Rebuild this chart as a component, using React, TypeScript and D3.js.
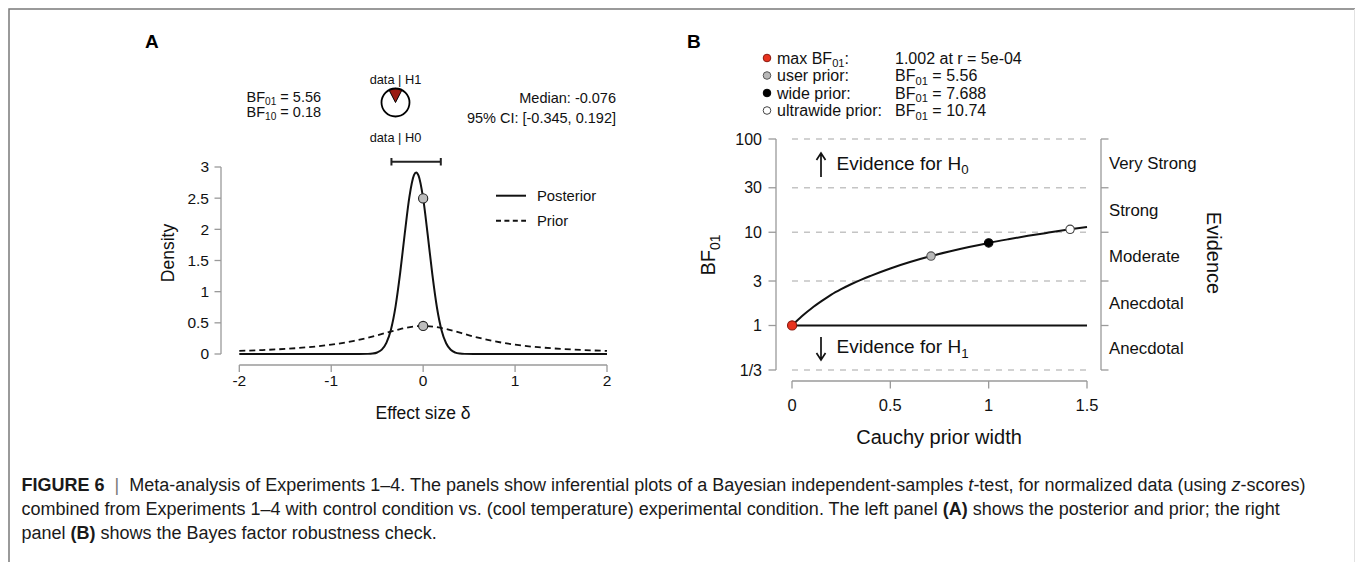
import React from 'react';
import * as d3 from 'd3';

const FONT = "'Liberation Sans', Arial, Helvetica, sans-serif";

// ---------- Panel A data ----------
const postX = [-2, -0.7, -0.6, -0.55, -0.5, -0.45, -0.4, -0.35, -0.3, -0.25, -0.2, -0.15, -0.1, -0.076, -0.05, 0, 0.05, 0.1, 0.15, 0.2, 0.25, 0.3, 0.35, 0.4, 0.45, 0.55, 2];
const postY = [0, 0, 0.002, 0.007, 0.024, 0.07, 0.178, 0.394, 0.765, 1.3, 1.933, 2.517, 2.868, 2.912, 2.86, 2.496, 1.908, 1.276, 0.746, 0.382, 0.172, 0.067, 0.023, 0.007, 0.002, 0, 0];
const priorX = [-2, -1.75, -1.5, -1.25, -1, -0.75, -0.5, -0.25, 0, 0.25, 0.5, 0.75, 1, 1.25, 1.5, 1.75, 2];
const priorY = [0.05, 0.063, 0.082, 0.109, 0.15, 0.212, 0.3, 0.4, 0.45, 0.4, 0.3, 0.212, 0.15, 0.109, 0.082, 0.063, 0.05];
const densityTicks = [0, 0.5, 1, 1.5, 2, 2.5, 3];
const densityTickLabels = ['0', '0.5', '1', '1.5', '2', '2.5', '3'];
const effectTicks = [-2, -1, 0, 1, 2];
const effectTickLabels = ['-2', '-1', '0', '1', '2'];
const ciBounds = [-0.345, 0.192];
const dotsA = [{ x: 0, y: 2.496 }, { x: 0, y: 0.45 }];
const pH1 = 1 / (1 + 5.56);
const legendA = ['Posterior', 'Prior'];
const statsLeft = ['BF_{01} = 5.56', 'BF_{10} = 0.18'];
const statsRight = ['Median: -0.076', '95% CI: [-0.345, 0.192]'];

// ---------- Panel B data ----------
const rValues = [0, 0.05, 0.1, 0.15, 0.2, 0.25, 0.3, 0.35, 0.4, 0.5, 0.6, 0.707, 0.8, 0.9, 1.0, 1.1, 1.2, 1.3, 1.414, 1.5];
const bfValues = [1, 1.257, 1.533, 1.823, 2.14, 2.45, 2.77, 3.09, 3.41, 4.09, 4.79, 5.56, 6.22, 6.95, 7.688, 8.41, 9.15, 9.88, 10.74, 11.37];
const bfTicks = [1 / 3, 1, 3, 10, 30, 100];
const bfTickLabels = ['1/3', '1', '3', '10', '30', '100'];
const rTicks = [0, 0.5, 1, 1.5];
const rTickLabels = ['0', '0.5', '1', '1.5'];
const evidenceBounds = [[100, 30], [30, 10], [10, 3], [3, 1], [1, 1 / 3]];
const evidenceLabels = ['Very Strong', 'Strong', 'Moderate', 'Anecdotal', 'Anecdotal'];
const markerR = [0.0005, 0.707, 1, 1.414];
const markerBF = [1.002, 5.56, 7.688, 10.74];
const markerFill = ['#e8321e', '#b8b8b8', '#000000', '#ffffff'];
const markerStroke = ['#8a1a10', '#555555', '#000000', '#444444'];
const legendNames = ['max BF_{01}:', 'user prior:', 'wide prior:', 'ultrawide prior:'];
const legendValues = ['1.002 at r = 5e-04', 'BF_{01} = 5.56', 'BF_{01} = 7.688', 'BF_{01} = 10.74'];

type Seg = [string, string?];
const captionLines: Seg[][] = [
  [['FIGURE 6', 'b'], ['  |  ', 'l'], ['Meta-analysis of Experiments 1–4. The panels show inferential plots of a Bayesian independent-samples '], ['t', 'i'], ['-test, for normalized data (using '], ['z', 'i'], ['-scores)']],
  [['combined from Experiments 1–4 with control condition vs. (cool temperature) experimental condition. The left panel '], ['(A)', 'b'], [' shows the posterior and prior; the right']],
  [['panel '], ['(B)', 'b'], [' shows the Bayes factor robustness check.']],
];

const AXIS = '#9a9a9a';

function Rich(props: any) {
  const { x, y, text, fs, anchor = 'start', weight = 'normal', transform, fill = '#111' } = props;
  const parts = text.split(/(_\{[^}]*\})/).filter((p: string) => p.length > 0);
  const shift = fs * 0.24;
  let prevSub = false;
  const kids = parts.map((p: string, i: number) => {
    if (p.startsWith('_{')) {
      const el = <tspan key={i} dy={shift} fontSize={fs * 0.7}>{p.slice(2, -1)}</tspan>;
      prevSub = true;
      return el;
    }
    const el = <tspan key={i} dy={prevSub ? -shift : 0}>{p}</tspan>;
    prevSub = false;
    return el;
  });
  return (
    <text x={x} y={y} fontSize={fs} textAnchor={anchor} fontWeight={weight} fill={fill} transform={transform} fontFamily={FONT} style={{ whiteSpace: 'pre' }}>
      {kids}
    </text>
  );
}

export default function App() {
  // ---------- Panel A scales ----------
  const xA = d3.scaleLinear().domain([-2, 2]).range([239.3, 607]);
  const yA = d3.scaleLinear().domain([0, 3]).range([354, 167]);
  const lineA = d3.line<[number, number]>().x(d => xA(d[0])).y(d => yA(d[1])).curve(d3.curveMonotoneX);
  const postPath = lineA(postX.map((v, i) => [v, postY[i]]) as [number, number][]) || '';
  const priorPath = d3.line<[number, number]>().x(d => xA(d[0])).y(d => yA(d[1])).curve(d3.curveNatural)(priorX.map((v, i) => [v, priorY[i]]) as [number, number][]) || '';
  const axisYA = 221;
  const axisXA = 365;

  // pie
  const pieCx = 395.5, pieCy = 102.5, pieR = 14;
  const half = pH1 * Math.PI;
  const wedge = d3.arc()({ innerRadius: 0, outerRadius: pieR, startAngle: -half, endAngle: half } as any) || '';

  // ---------- Panel B scales ----------
  const xB = d3.scaleLinear().domain([0, 1.5]).range([792, 1087]);
  const yB = d3.scaleLog().domain([1 / 3, 100]).range([370, 139]);
  const bfPath = d3.line<[number, number]>().x(d => xB(d[0])).y(d => yB(d[1])).curve(d3.curveMonotoneX)(rValues.map((v, i) => [v, bfValues[i]]) as [number, number][]) || '';
  const axisYB = 776;
  const axisXB = 381;
  const rightAxis = 1101;
  const legendRows = [58, 75.5, 93, 110.5];

  const capY = [485, 509, 533];

  return (
    <div style={{ position: 'absolute', left: 0, top: 0 }}>
      <svg width={1355} height={562} viewBox="0 0 1355 562" style={{ display: 'block', background: '#fff' }}>
        <rect x={0} y={0} width={1355} height={562} fill="#fff" />
        {/* frame */}
        <path d="M9,562 L9,9 L1355,9" fill="none" stroke="#7a7a7a" strokeWidth={1.5} />
        <line x1={1354.5} y1={9} x2={1354.5} y2={562} stroke="#e2e2e2" strokeWidth={1} />

        {/* ================= PANEL A ================= */}
        <text x={145} y={48} fontSize={19} fontWeight="bold" fontFamily={FONT} fill="#000">A</text>

        {statsLeft.map((t, i) => (
          <Rich key={t} x={246.5} y={97 + i * 15 + 5} text={t} fs={14.5} />
        ))}
        {statsRight.map((t, i) => (
          <Rich key={t} x={616} y={98 + i * 20 + 5} text={t} fs={14.5} anchor="end" />
        ))}
        <text x={pieCx} y={79 + 4.5} fontSize={12.8} textAnchor="middle" fontFamily={FONT} fill="#111">data | H1</text>
        <text x={pieCx} y={137 + 4.5} fontSize={12.8} textAnchor="middle" fontFamily={FONT} fill="#111">data | H0</text>
        <g transform={`translate(${pieCx},${pieCy})`}>
          <circle r={pieR} fill="#fff" />
          <path d={wedge} fill="#9a1b12" stroke="#000" strokeWidth={1} />
          <circle r={pieR} fill="none" stroke="#000" strokeWidth={1.8} />
        </g>

        {/* CI bar */}
        <g stroke="#222" strokeWidth={2}>
          <line x1={xA(ciBounds[0])} x2={xA(ciBounds[1])} y1={161.7} y2={161.7} />
          <line x1={xA(ciBounds[0])} x2={xA(ciBounds[0])} y1={158} y2={165.5} />
          <line x1={xA(ciBounds[1])} x2={xA(ciBounds[1])} y1={158} y2={165.5} />
        </g>

        {/* y axis A */}
        <line x1={axisYA} x2={axisYA} y1={yA(0)} y2={yA(3)} stroke={AXIS} strokeWidth={1.3} />
        {densityTicks.map((t, i) => (
          <g key={t}>
            <line x1={axisYA - 6.5} x2={axisYA} y1={yA(t)} y2={yA(t)} stroke={AXIS} strokeWidth={1.3} />
            <text x={209} y={yA(t) + 5.4} fontSize={15.5} textAnchor="end" fontFamily={FONT} fill="#111">{densityTickLabels[i]}</text>
          </g>
        ))}
        {/* x axis A */}
        <line x1={xA(-2)} x2={xA(2)} y1={axisXA} y2={axisXA} stroke={AXIS} strokeWidth={1.3} />
        {effectTicks.map((t, i) => (
          <g key={t}>
            <line x1={xA(t)} x2={xA(t)} y1={axisXA} y2={axisXA + 7} stroke={AXIS} strokeWidth={1.3} />
            <text x={xA(t)} y={381 + 5.4} fontSize={15.5} textAnchor="middle" fontFamily={FONT} fill="#111">{effectTickLabels[i]}</text>
          </g>
        ))}
        <text x={423} y={413 + 6} fontSize={17.5} textAnchor="middle" fontFamily={FONT} fill="#111">Effect size δ</text>
        <text transform={`translate(${174},${253}) rotate(-90)`} fontSize={17.5} textAnchor="middle" fontFamily={FONT} fill="#111">Density</text>

        {/* curves A */}
        <path d={priorPath} fill="none" stroke="#111" strokeWidth={1.8} strokeDasharray="6,4" />
        <path d={postPath} fill="none" stroke="#111" strokeWidth={2} />
        {dotsA.map((d, i) => (
          <circle key={i} cx={xA(d.x)} cy={yA(d.y)} r={4.6} fill="#bdbdbd" stroke="#222" strokeWidth={1.1} />
        ))}

        {/* legend A */}
        {legendA.map((t, i) => (
          <g key={t}>
            <line x1={496} x2={526} y1={195.7 + i * 25} y2={195.7 + i * 25} stroke="#111" strokeWidth={2} strokeDasharray={i === 1 ? '5,3.4' : undefined} />
            <text x={537} y={195.7 + i * 25 + 5.2} fontSize={14.8} fontFamily={FONT} fill="#111">{t}</text>
          </g>
        ))}

        {/* ================= PANEL B ================= */}
        <text x={687} y={48} fontSize={19} fontWeight="bold" fontFamily={FONT} fill="#000">B</text>

        {legendNames.map((t, i) => (
          <g key={t}>
            <circle cx={767} cy={legendRows[i]} r={3.8} fill={markerFill[i]} stroke={markerStroke[i]} strokeWidth={1} />
            <Rich x={777} y={legendRows[i] + 5.6} text={t} fs={16} />
            <Rich x={895} y={legendRows[i] + 5.6} text={legendValues[i]} fs={16} />
          </g>
        ))}

        {/* dashed grid */}
        {bfTicks.filter(t => t !== 1).map(t => (
          <line key={t} x1={xB(0)} x2={xB(1.5)} y1={yB(t)} y2={yB(t)} stroke="#c4c4c4" strokeWidth={1.6} strokeDasharray="6,6" />
        ))}

        {/* left axis B */}
        <line x1={axisYB} x2={axisYB} y1={yB(1 / 3)} y2={yB(100)} stroke={AXIS} strokeWidth={1.3} />
        {bfTicks.map((t, i) => (
          <g key={t}>
            <line x1={axisYB - 7.5} x2={axisYB} y1={yB(t)} y2={yB(t)} stroke={AXIS} strokeWidth={1.3} />
            <text x={762} y={yB(t) + 5.7} fontSize={16} textAnchor="end" fontFamily={FONT} fill="#111">{bfTickLabels[i]}</text>
          </g>
        ))}
        {/* right axis B */}
        <line x1={rightAxis} x2={rightAxis} y1={yB(1 / 3)} y2={yB(100)} stroke={AXIS} strokeWidth={1.3} />
        {bfTicks.map(t => (
          <line key={t} x1={rightAxis} x2={rightAxis + 7.5} y1={yB(t)} y2={yB(t)} stroke={AXIS} strokeWidth={1.3} />
        ))}
        {evidenceBounds.map((b, i) => (
          <text key={i} x={1109} y={yB(Math.sqrt(b[0] * b[1])) + 5.8} fontSize={16.8} fontFamily={FONT} fill="#111">{evidenceLabels[i]}</text>
        ))}
        <text transform={`translate(${1207},${253}) rotate(90)`} fontSize={20} textAnchor="middle" fontFamily={FONT} fill="#111">Evidence</text>
        <Rich transform={`translate(${715},${255}) rotate(-90)`} x={0} y={0} text="BF_{01}" fs={20} anchor="middle" />

        {/* x axis B */}
        <line x1={xB(0)} x2={xB(1.5)} y1={axisXB} y2={axisXB} stroke={AXIS} strokeWidth={1.3} />
        {rTicks.map((t, i) => (
          <g key={t}>
            <line x1={xB(t)} x2={xB(t)} y1={axisXB} y2={axisXB + 7.5} stroke={AXIS} strokeWidth={1.3} />
            <text x={xB(t)} y={405 + 5.8} fontSize={16.5} textAnchor="middle" fontFamily={FONT} fill="#111">{rTickLabels[i]}</text>
          </g>
        ))}
        <text x={939} y={437 + 7} fontSize={20} textAnchor="middle" fontFamily={FONT} fill="#111">Cauchy prior width</text>

        {/* evidence arrows */}
        <g stroke="#111" strokeWidth={1.7} fill="none">
          <path d={`M821,177 L821,153 M816.5,160 L821,153 L825.5,160`} />
          <path d={`M821,337 L821,360 M816.5,353 L821,360 L825.5,353`} />
        </g>
        <Rich x={836.5} y={163 + 6.7} text="Evidence for H_{0}" fs={19} />
        <Rich x={836.5} y={346.7 + 6.7} text="Evidence for H_{1}" fs={19} />

        {/* BF = 1 line & curve */}
        <line x1={xB(0)} x2={xB(1.5)} y1={yB(1)} y2={yB(1)} stroke="#111" strokeWidth={2} />
        <path d={bfPath} fill="none" stroke="#111" strokeWidth={2} />
        {markerR.map((r, i) => (
          <circle key={i} cx={xB(r)} cy={yB(markerBF[i])} r={i === 0 ? 4.6 : 4.2} fill={markerFill[i]} stroke={markerStroke[i]} strokeWidth={1.1} />
        ))}

        {/* ================= CAPTION ================= */}
        {captionLines.map((segs, li) => (
          <text key={li} x={21.5} y={capY[li] + 6.3} fontSize={18} fontFamily={FONT} fill="#1a1a1a" style={{ whiteSpace: 'pre' }}>
            {segs.map((s, si) => (
              <tspan key={si} fontWeight={s[1] === 'b' ? 'bold' : 'normal'} fontStyle={s[1] === 'i' ? 'italic' : 'normal'} fill={s[1] === 'l' ? '#777' : undefined}>{s[0]}</tspan>
            ))}
          </text>
        ))}
      </svg>
    </div>
  );
}
